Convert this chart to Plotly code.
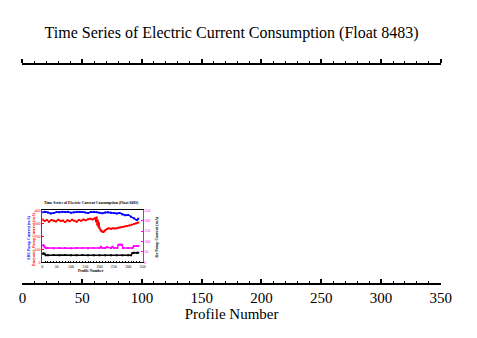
import plotly.graph_objects as go

W, H = 477, 338

# ---- main axis ----
main_range = [0, 350]
main_tick_step = 50

# ---- inset: time series of current consumption ----
red_profiles = [1, 8, 16, 24, 32, 40, 48, 56, 64, 72, 80, 88, 96, 104, 112, 120, 128, 136, 144,
                152, 160, 168, 176, 184, 188, 190, 192, 194, 196, 198, 200, 204, 208, 212, 216,
                220, 226, 232, 240, 248, 256, 264, 272, 280, 288, 296, 304, 312, 320, 328, 335]
red_current = [330, 318, 325, 312, 326, 320, 315, 328, 318, 322, 310, 324, 316, 327, 319, 313, 325,
               320, 329, 323, 332, 336, 330, 340, 315, 345, 290, 320, 275, 300, 262, 245, 238, 232,
               236, 246, 256, 262, 258, 262, 260, 265, 268, 272, 276, 280, 284, 288, 294, 300, 306]

blue_profiles = [1, 10, 20, 30, 40, 50, 60, 70, 80, 90, 100, 110, 120, 130, 140, 150, 160, 170,
                 180, 190, 200, 210, 220, 230, 240, 250, 260, 270, 280, 290, 300, 310, 320, 330, 335]
blue_current = [38.6, 38.9, 38.4, 37.6, 37.9, 38.8, 38.5, 39.0, 38.7, 38.9, 38.2, 38.6, 38.9, 39.0,
                38.7, 38.3, 38.0, 38.8, 38.9, 38.5, 38.1, 37.8, 38.4, 38.6, 38.2, 37.9, 37.6, 37.9,
                36.8, 36.2, 36.5, 35.0, 34.0, 32.5, 33.5]

mag_profiles = [1, 4, 8, 12, 20, 40, 60, 80, 100, 120, 140, 160, 180, 200, 205, 210, 220, 225,
                240, 245, 250, 262, 266, 272, 278, 282, 300, 315, 320, 330, 335]
mag_current = [80, 82, 74, 68, 68, 67, 68, 68, 67, 68, 68, 67, 68, 68, 74, 68, 68, 73, 68, 74, 68,
               68, 84, 85, 84, 68, 68, 68, 78, 78, 78]

blk_profiles = [1, 4, 8, 12, 20, 40, 60, 80, 100, 120, 140, 160, 180, 200, 220, 240, 260, 280,
                300, 310, 315, 320, 330, 335]
blk_voltage = [40, 42, 40, 33, 33, 34, 33, 34, 33, 33, 34, 33, 33, 33, 33, 33, 33, 33, 33, 33,
               44, 45, 45, 45]

inset_range = [0, 350]
inset_tick_step = 50


def px(x):
    return x / W


def py(y):
    return 1 - y / H


SERIF = "Liberation Serif, Times New Roman, serif"

fig = go.Figure()

# invisible traces holding the main bottom and top axes
for xa in ("x", "x3"):
    fig.add_trace(go.Scatter(x=main_range, y=[0, 1], mode="markers",
                             marker=dict(opacity=0), hoverinfo="skip", showlegend=False,
                             xaxis=xa, yaxis="y"))

fig.add_trace(go.Scatter(x=blue_profiles, y=blue_current, mode="lines+markers",
                         line=dict(color="#0000ff", width=1.5),
                         marker=dict(color="#0000ff", size=2, symbol="square"),
                         showlegend=False, xaxis="x2", yaxis="y3"))
fig.add_trace(go.Scatter(x=red_profiles, y=red_current, mode="lines+markers",
                         line=dict(color="#ff0000", width=1.5),
                         marker=dict(color="#ff0000", size=2, symbol="square"),
                         showlegend=False, xaxis="x2", yaxis="y2"))
fig.add_trace(go.Scatter(x=mag_profiles, y=mag_current, mode="lines+markers",
                         line=dict(color="#ff00ff", width=1.5),
                         marker=dict(color="#ff00ff", size=2, symbol="square"),
                         showlegend=False, xaxis="x2", yaxis="y4"))
fig.add_trace(go.Scatter(x=blk_profiles, y=blk_voltage, mode="lines+markers",
                         line=dict(color="#000000", width=1.5),
                         marker=dict(color="#000000", size=2, symbol="square"),
                         showlegend=False, xaxis="x2", yaxis="y4"))

main_dom_x = [px(19), px(451)]
main_dom_y = [py(284), py(63)]
ins_dom_x = [px(39.5), px(143)]
ins_dom_y = [py(263), py(210.5)]

axis_common = dict(range=main_range, tickmode="linear", tick0=0, dtick=main_tick_step,
                   ticklen=4, tickwidth=1.5, tickcolor="black", showline=True,
                   linecolor="black", linewidth=1.5, showgrid=False, zeroline=False)

fig.update_layout(
    width=W, height=H,
    margin=dict(l=0, r=0, t=0, b=0),
    paper_bgcolor="white", plot_bgcolor="rgba(0,0,0,0)",
    font=dict(family=SERIF, color="black"),
    title=dict(text="Time Series of Electric Current Consumption (Float 8483)",
               x=px(235), xanchor="center", xref="paper",
               y=py(30), yanchor="middle", yref="paper",
               font=dict(family=SERIF, size=16, color="black")),
    xaxis=dict(domain=main_dom_x, anchor="y", ticks="inside",
               minor=dict(dtick=10, ticks="inside", ticklen=2, tickwidth=1.2,
                          tickcolor="black"),
               tickfont=dict(family=SERIF, size=15, color="black"),
               title=dict(text="Profile Number", standoff=4,
                          font=dict(family=SERIF, size=15, color="black")),
               **axis_common),
    xaxis3=dict(overlaying="x", side="top", anchor="y", ticks="outside",
                minor=dict(dtick=10, ticks="outside", ticklen=2, tickwidth=1.2,
                           tickcolor="black"),
                showticklabels=False, **axis_common),
    yaxis=dict(domain=main_dom_y, anchor="x", range=[0, 1], showline=False,
               showticklabels=False, ticks="", showgrid=False, zeroline=False),
    xaxis2=dict(domain=ins_dom_x, anchor="y2", range=inset_range, tickmode="linear",
                tick0=0, dtick=inset_tick_step,
                ticks="inside", ticklen=1.5, tickcolor="black", showline=True,
                linecolor="black", linewidth=1, mirror=True,
                minor=dict(dtick=10, ticks="inside", ticklen=1, tickcolor="black"),
                showgrid=False, zeroline=False,
                tickfont=dict(family=SERIF, size=4, color="black")),
    yaxis2=dict(domain=ins_dom_y, anchor="x2", range=[0, 400], dtick=100,
                ticks="inside", ticklen=1.5, tickcolor="#ff0000", showline=True,
                linecolor="#ff0000", linewidth=1, showgrid=False, zeroline=False,
                tickfont=dict(family=SERIF, size=4, color="#ff0000")),
    yaxis3=dict(overlaying="y2", anchor="x2", range=[0, 40], visible=False),
    yaxis4=dict(overlaying="y2", anchor="x2", side="right", range=[0, 250], dtick=50,
                ticks="inside", ticklen=1.5, tickcolor="#ff00ff", showline=True,
                linecolor="#ff00ff", linewidth=1, showgrid=False, zeroline=False,
                tickfont=dict(family=SERIF, size=4, color="#ff00ff")),
)

ann = [
    dict(text="<b>Time Series of Electric Current Consumption (Float 8483)</b>",
         x=px(90), y=py(202.5), font=dict(size=3.8, color="black")),
    dict(text="<b>Profile Number</b>", x=px(90), y=py(272),
         font=dict(size=3.8, color="black")),
    dict(text="<b>SBE Pump Current (mA)</b>", x=px(25), y=py(238),
         font=dict(size=4, color="#0000ff"), textangle=-90),
    dict(text="<b>Buoyancy Pump Current (mA)</b>", x=px(30.5), y=py(240),
         font=dict(size=4, color="#ff0000"), textangle=-90),
    dict(text="<b>Air Pump Current (mA)</b>", x=px(157), y=py(238),
         font=dict(size=4, color="black"), textangle=-90),
]
for a in ann:
    fig.add_annotation(xref="paper", yref="paper", showarrow=False,
                       xanchor="center", yanchor="middle",
                       font_family=SERIF, **a)

fig.write_html("out.html")
